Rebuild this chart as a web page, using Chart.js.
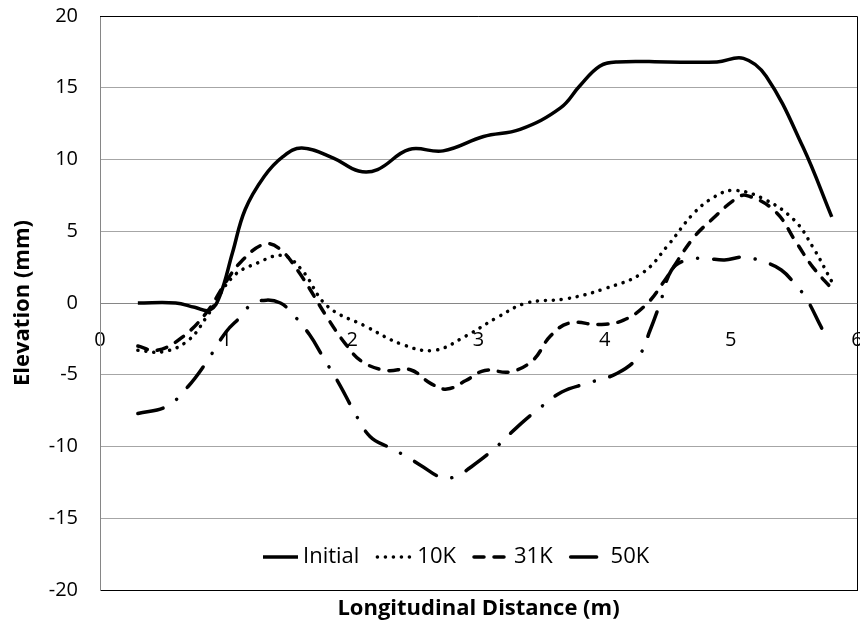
<!DOCTYPE html>
<html>
<head>
<meta charset="utf-8">
<script src="https://cdn.jsdelivr.net/npm/chart.js@4.4.1/dist/chart.umd.min.js"></script>
<style>
  html, body { margin: 0; padding: 0; background: #fff; }
  #wrap { width: 860px; height: 628px; }
</style>
</head>
<body>
<div id="wrap"><canvas id="profileChart"></canvas></div>
<script>
// -------- DATA --------
const seriesNames = ['Initial', '10K', '31K', '50K'];

const initialX = [0.3, 0.6, 0.75, 0.87, 0.95, 1.05, 1.15, 1.3, 1.45, 1.6, 1.85, 2.05, 2.2, 2.45, 2.72, 3.04, 3.33, 3.65, 3.8, 3.96, 4.1, 4.5, 4.89, 5.1, 5.28, 5.57, 5.8];
const initialY = [0, 0, -0.3, -0.5, 0.5, 3.5, 6.5, 8.8, 10.2, 10.8, 10.1, 9.2, 9.3, 10.7, 10.6, 11.6, 12.1, 13.6, 15.1, 16.5, 16.8, 16.8, 16.8, 17.05, 15.8, 10.9, 6.0];

const k10X = [0.3, 0.5, 0.7, 0.85, 1.05, 1.25, 1.45, 1.6, 1.8, 2.1, 2.4, 2.65, 2.9, 3.15, 3.38, 3.7, 4.0, 4.3, 4.5, 4.7, 4.87, 5.02, 5.25, 5.5, 5.65, 5.8];
const k10Y = [-3.3, -3.4, -2.6, -0.9, 1.8, 2.8, 3.3, 2.3, -0.2, -1.6, -2.9, -3.3, -2.3, -1.0, 0, 0.3, 1.0, 2.1, 4.0, 6.2, 7.4, 7.85, 7.3, 5.8, 3.9, 1.5];

const k31X = [0.3, 0.45, 0.65, 0.85, 1.0, 1.12, 1.3, 1.42, 1.58, 1.8, 1.95, 2.08, 2.27, 2.46, 2.62, 2.75, 2.9, 3.05, 3.25, 3.43, 3.57, 3.72, 3.96, 4.15, 4.33, 4.47, 4.7, 4.86, 5.03, 5.12, 5.35, 5.52, 5.65, 5.8];
const k31Y = [-3.0, -3.3, -2.4, -0.6, 1.5, 2.9, 4.1, 3.8, 2.1, -1.0, -2.9, -4.1, -4.7, -4.65, -5.6, -6.0, -5.4, -4.7, -4.8, -4.0, -2.3, -1.4, -1.5, -1.2, -0.1, 1.5, 4.5, 5.9, 7.2, 7.5, 6.4, 4.2, 2.5, 1.0];

const k50X = [0.3, 0.53, 0.7, 0.83, 1.0, 1.11, 1.2, 1.32, 1.43, 1.51, 1.66, 1.77, 1.9, 2.01, 2.14, 2.3, 2.43, 2.54, 2.72, 2.84, 2.93, 3.12, 3.3, 3.46, 3.66, 3.86, 4.1, 4.27, 4.36, 4.44, 4.53, 4.65, 4.8, 4.95, 5.1, 5.25, 5.4, 5.52, 5.6, 5.75, 5.8];
const k50Y = [-7.7, -7.2, -5.8, -4.3, -2.0, -1.0, -0.1, 0.2, 0, -0.6, -2.2, -3.8, -5.7, -7.5, -9.3, -10.1, -10.7, -11.3, -12.2, -12.0, -11.5, -10.2, -8.7, -7.5, -6.2, -5.6, -4.9, -3.7, -1.9, 0, 2.3, 3.0, 3.1, 3.0, 3.2, 2.9, 2.3, 1.2, 0.3, -2.2, -2.6];

const xTicks = [0, 1, 2, 3, 4, 5, 6];
const yTicks = [-20, -15, -10, -5, 0, 5, 10, 15, 20];

// -------- STYLE --------
const FONT = "'Open Sans', 'DejaVu Sans', sans-serif";
const dashes = [[], [0.1, 7.9], [10, 10], [26, 16, 0.1, 16]];

const zip = (xs, ys) => xs.map((x, i) => ({ x, y: ys[i] }));
const seriesData = [zip(initialX, initialY), zip(k10X, k10Y), zip(k31X, k31Y), zip(k50X, k50Y)];

const datasets = seriesNames.map((name, i) => ({
  label: name,
  data: seriesData[i],
  borderColor: '#000',
  borderWidth: 3.5,
  borderDash: dashes[i],
  borderCapStyle: i === 0 ? 'butt' : 'round',
  pointRadius: 0,
  tension: 0.4,
  fill: false
}));

// tick-label overflow should not shrink the plot area
const noScalePadding = s => {
  s.paddingTop = 0; s.paddingBottom = 0; s.paddingLeft = 0; s.paddingRight = 0;
};

// frame: black top / right lines
const framePlugin = {
  id: 'frame',
  afterDraw(chart) {
    const { ctx, chartArea: a } = chart;
    ctx.save();
    ctx.strokeStyle = '#000';
    ctx.lineWidth = 1;
    ctx.beginPath();
    ctx.moveTo(a.left, a.top + 0.5);
    ctx.lineTo(a.right + 0.5, a.top + 0.5);
    ctx.lineTo(a.right + 0.5, a.bottom);
    ctx.stroke();
    ctx.restore();
  }
};

// legend inside plot area (Excel style)
const insideLegend = {
  id: 'insideLegend',
  afterDraw(chart) {
    const { ctx } = chart;
    let x = 263;
    const y = 557;
    ctx.save();
    ctx.font = `22px ${FONT}`;
    ctx.textBaseline = 'middle';
    ctx.fillStyle = '#000';
    chart.data.datasets.forEach(ds => {
      ctx.strokeStyle = ds.borderColor;
      ctx.lineWidth = ds.borderWidth;
      ctx.lineCap = ds.borderCapStyle;
      ctx.setLineDash(ds.borderDash);
      ctx.beginPath();
      ctx.moveTo(x, y);
      ctx.lineTo(x + 35, y);
      ctx.stroke();
      ctx.setLineDash([]);
      const tx = x + 40;
      ctx.fillText(ds.label, tx, y);
      x = tx + ctx.measureText(ds.label).width + 18;
    });
    ctx.restore();
  }
};

new Chart(document.getElementById('profileChart'), {
  type: 'line',
  data: { datasets },
  options: {
    responsive: true,
    maintainAspectRatio: false,
    animation: false,
    layout: { autoPadding: false, padding: { top: 16, right: 3, left: 0, bottom: 0 } },
    plugins: {
      legend: { display: false },
      tooltip: { enabled: false }
    },
    scales: {
      x: {
        type: 'linear',
        min: 0,
        max: 6,
        position: { y: 0 },
        afterFit: s => { s.height = 0; noScalePadding(s); },
        afterBuildTicks: s => { s.ticks = xTicks.map(v => ({ value: v })); },
        grid: { display: true, drawOnChartArea: false, drawTicks: false },
        border: { display: true, color: '#868686', width: 1 },
        ticks: { color: '#000', font: { family: FONT, size: 20 }, padding: 25, maxRotation: 0 }
      },
      xTitle: {
        type: 'linear',
        axis: 'x',
        position: 'bottom',
        min: 0,
        max: 6,
        afterFit: s => { s.height = 38; noScalePadding(s); },
        grid: { display: true, drawOnChartArea: false, drawTicks: false },
        border: { display: true, color: '#000', width: 1 },
        ticks: { display: false },
        title: {
          display: true,
          text: 'Longitudinal Distance (m)',
          color: '#000',
          font: { family: FONT, size: 22, weight: 'bold' },
          padding: { top: 0, bottom: 6 }
        }
      },
      y: {
        min: -20,
        max: 20,
        afterFit: s => { s.width = 100; noScalePadding(s); },
        afterBuildTicks: s => { s.ticks = yTicks.map(v => ({ value: v })); },
        grid: { color: '#a6a6a6', lineWidth: 1, drawTicks: false },
        border: { display: true, color: '#868686', width: 1 },
        ticks: { color: '#000', font: { family: FONT, size: 20 }, padding: 22 },
        title: {
          display: true,
          text: 'Elevation (mm)',
          color: '#000',
          font: { family: FONT, size: 22, weight: 'bold' },
          padding: { top: 10, bottom: 0 }
        }
      }
    }
  },
  plugins: [framePlugin, insideLegend]
});
</script>
</body>
</html>
